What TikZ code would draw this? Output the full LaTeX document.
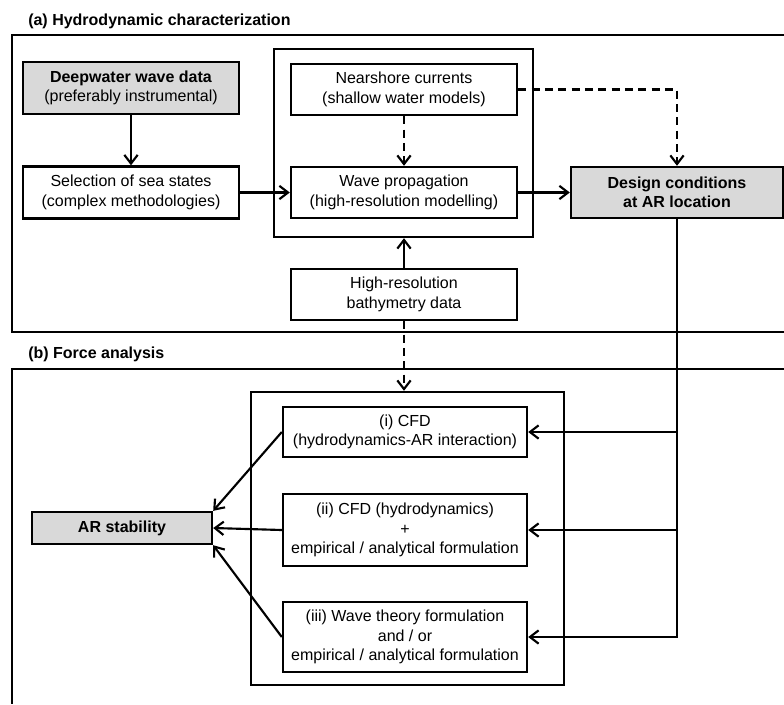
\documentclass[tikz,border=0pt]{standalone}
\usepackage{fontspec}
\setmainfont{Liberation Sans}
\usetikzlibrary{arrows.meta}
\definecolor{boxGray}{gray}{0.85}
\newcommand{\partTitle}[3]{%
  \node[titleStyle] (#1) at (#2) {#3};
}

\begin{document}
\begin{tikzpicture}[%
  x=0.75pt,y=-0.75pt,%
  boxStyle/.style={draw,line width=1.8pt,align=center,inner sep=2pt,font=\fontsize{12}{14.5}\selectfont},%
  grayStyle/.style={boxStyle,fill=boxGray},%
  leftBoxStyle/.style={minimum width=162pt,minimum height=39pt},%
  midBoxStyle/.style={minimum width=169.5pt,minimum height=38.25pt},%
  methodStyle/.style={boxStyle,minimum width=183pt},%
  groupStyle/.style={draw,line width=1.8pt,inner sep=0pt},%
  frameStyle/.style={line width=1.8pt},%
  arrowStyle/.style={-{Straight Barb[length=6.5pt,width=10pt]},line width=1.6pt},%
  dashArrowStyle/.style={arrowStyle,dash pattern=on 6pt off 4pt},%
  titleStyle/.style={anchor=base west,inner sep=0pt,font=\fontsize{12}{14.5}\selectfont\bfseries}
]
%
\pgfmathsetmacro{\xright}{784}
\pgfmathsetmacro{\ybottom}{704}
\useasboundingbox (0,0) rectangle (\xright,\ybottom);
\coordinate (titleA) at (28,25);
\coordinate (titleB) at (28,358);
%
% (a) Hydrodynamic characterization.
\partTitle{hydroTitle}{titleA}{(a) Hydrodynamic characterization}
\draw[frameStyle] (\xright,35) -- (12,35) -- (12,332) -- (\xright,332);
\node[groupStyle,minimum width=194.25pt,minimum height=141pt] (groupA) at (403.5,143) {};
\node[grayStyle,leftBoxStyle] (deep) at (131,88) {\textbf{Deepwater wave data}\\(preferably instrumental)};
\node[boxStyle,leftBoxStyle] (select) at (131,192.5) {Selection of sea states\\(complex methodologies)};
\node[boxStyle,midBoxStyle] (near) at (404,89.5) {Nearshore currents\\(shallow water models)};
\node[boxStyle,midBoxStyle] (wave) at (404,192.5) {Wave propagation\\(high-resolution modelling)};
\node[boxStyle,midBoxStyle] (bathy) at (404,294.5) {High-resolution\\bathymetry data};
\node[grayStyle,minimum width=159pt,minimum height=38.25pt,font=\fontsize{12}{14.5}\selectfont\bfseries] (design) at (677,192.5) {Design conditions\\at AR location};
%
\draw[arrowStyle] (deep) -- (select);
\draw[arrowStyle] (select) -- (wave);
\draw[arrowStyle] (wave) -- (design);
\draw[dashArrowStyle] (near) -- (wave);
\draw[dashArrowStyle] (near.east) -| (design.north);
\draw[arrowStyle] (bathy.north) -- (bathy.north |- groupA.south);
%
% (b) Force analysis.
\partTitle{forceTitle}{titleB}{(b) Force analysis}
\draw[frameStyle] (\xright,369) -- (12,369) -- (12,\ybottom);
\node[groupStyle,minimum width=234.75pt,minimum height=219.75pt] (groupB) at (407.5,538.5) {};
\node[methodStyle,minimum height=37.5pt] (cfdA) at (405,432) {(i) CFD\\(hydrodynamics-AR interaction)};
\node[methodStyle,minimum height=54pt] (cfdB) at (405,530) {(ii) CFD (hydrodynamics)\\+\\empirical / analytical formulation};
\node[methodStyle,minimum height=52.5pt] (cfdC) at (405,637) {(iii) Wave theory formulation\\and / or\\empirical / analytical formulation};
\node[grayStyle,minimum width=135pt,minimum height=24pt,font=\fontsize{12}{14.5}\selectfont\bfseries] (stab) at (122,528) {AR stability};
%
\draw[dashArrowStyle] (bathy.south) -- (bathy.south |- groupB.north);
\draw[arrowStyle] (design.south) |- (cfdC.east);
\foreach \m in {cfdA,cfdB}{
  \draw[arrowStyle] (design.south |- \m.east) -- (\m.east);
};
\draw[arrowStyle] (cfdA.west) -- (stab.north east);
\draw[arrowStyle] (cfdB.west) -- (stab.east);
\draw[arrowStyle] (cfdC.west) -- (stab.south east);
\end{tikzpicture}
\end{document}
